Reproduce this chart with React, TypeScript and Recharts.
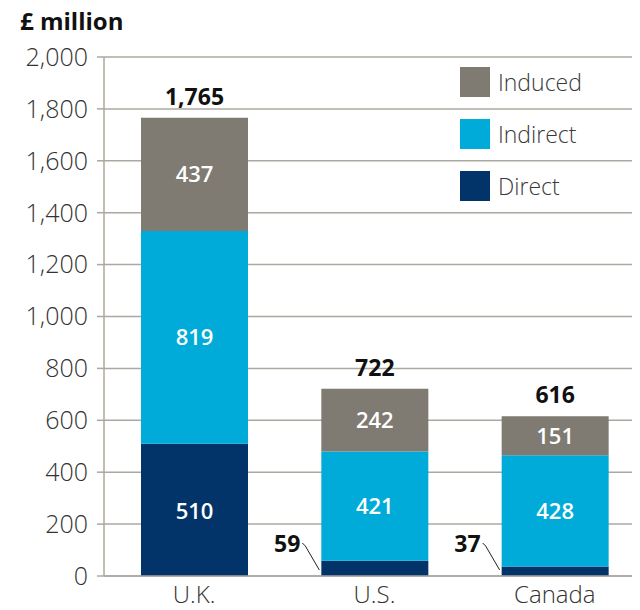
import { BarChart, Bar, XAxis, YAxis, CartesianGrid, Legend, LabelList } from "recharts";

const countries = ["U.K.", "U.S.", "Canada"];
const direct = [510, 59, 37];
const indirect = [819, 421, 428];
const induced = [437, 242, 151];
const totals = [1765, 722, 616];
const yTicks = [0, 200, 400, 600, 800, 1000, 1200, 1400, 1600, 1800, 2000];

const COLORS = {
  direct: "#02346a",
  indirect: "#00abd9",
  induced: "#7f7a72",
};

const FONT = "'Open Sans', sans-serif";
const GRID = "#aca79f";

const data = countries.map((country, i) => ({
  country,
  Direct: direct[i],
  Indirect: indirect[i],
  Induced: induced[i],
}));

// small segments get an outside label with a leader line
function DirectLabel(props: any) {
  const { x, y, width, height, value } = props;
  if (value >= 100) {
    return (
      <text
        x={x + width / 2}
        y={y + height / 2}
        fill="#fff"
        textAnchor="middle"
        dominantBaseline="central"
        fontFamily={FONT}
        fontSize={22}
        fontWeight={600}
      >
        {value}
      </text>
    );
  }
  const bottom = y + height;
  return (
    <g>
      <text
        x={x - 21}
        y={bottom - 24}
        textAnchor="end"
        fill="#111"
        fontFamily={FONT}
        fontSize={23}
        fontWeight={700}
      >
        {value}
      </text>
      <polyline
        points={`${x - 19},${bottom - 33} ${x - 16},${bottom - 30} ${x - 2},${bottom - 6}`}
        fill="none"
        stroke="#222"
        strokeWidth={1}
      />
    </g>
  );
}

function TotalLabel(props: any) {
  const { x, y, width, index } = props;
  return (
    <text
      x={x + width / 2}
      y={y - 13}
      textAnchor="middle"
      fill="#111"
      fontFamily={FONT}
      fontSize={23}
      fontWeight={700}
    >
      {totals[index].toLocaleString("en-US")}
    </text>
  );
}

function LegendBox(props: any) {
  const items = [...(props.payload || [])].reverse();
  return (
    <div style={{ fontFamily: FONT }}>
      {items.map((item: any) => (
        <div
          key={item.value}
          style={{ display: "flex", alignItems: "center", height: 30, marginBottom: 22 }}
        >
          <span style={{ width: 30, height: 30, background: item.color, display: "inline-block" }} />
          <span style={{ marginLeft: 8, fontSize: 23, fontWeight: 300, color: "#3a3a3a" }}>
            {item.value}
          </span>
        </div>
      ))}
    </div>
  );
}

export default function App() {
  return (
    <div style={{ position: "relative", width: 632, height: 602 }}>
      {/* plot area runs a little past the right edge, so clip it */}
      <div style={{ position: "absolute", left: 0, top: 0, width: 632, height: 602, overflow: "hidden" }}>
        <BarChart
          width={660}
          height={602}
          data={data}
          margin={{ top: 49, right: 23, left: 0, bottom: 4 }}
          barSize={107}
        >
          <CartesianGrid vertical={false} stroke={GRID} strokeWidth={1.5} />
          <XAxis
            xAxisId="edge"
            type="number"
            domain={[0, 3]}
            ticks={[0, 1, 2, 3]}
            tick={false}
            axisLine={false}
            tickLine={{ stroke: GRID, strokeWidth: 1.5 }}
            tickSize={7}
            height={0}
          />
          <XAxis
            dataKey="country"
            axisLine={{ stroke: GRID, strokeWidth: 1.5 }}
            tickLine={false}
            tickSize={7}
            tickMargin={3}
            height={30}
            tick={{ fontFamily: FONT, fontSize: 24, fontWeight: 300, fill: "#333" }}
          />
          <YAxis
            domain={[0, 2000]}
            ticks={yTicks}
            interval={0}
            width={96}
            tickSize={7}
            tickMargin={9}
            axisLine={{ stroke: GRID, strokeWidth: 1.5 }}
            tickLine={{ stroke: GRID, strokeWidth: 1.5 }}
            tickFormatter={(v: number) => v.toLocaleString("en-US")}
            tick={{ fontFamily: FONT, fontSize: 25, fontWeight: 300, fill: "#333" }}
          />
          <Legend
            layout="vertical"
            align="center"
            verticalAlign="middle"
            wrapperStyle={{ top: 59, left: 452, width: 180 }}
            content={<LegendBox />}
          />
          <Bar dataKey="Direct" stackId="a" fill={COLORS.direct} isAnimationActive={false}>
            <LabelList dataKey="Direct" content={<DirectLabel />} />
          </Bar>
          <Bar dataKey="Indirect" stackId="a" fill={COLORS.indirect} isAnimationActive={false}>
            <LabelList
              dataKey="Indirect"
              position="center"
              fill="#fff"
              fontFamily={FONT}
              fontSize={22}
              fontWeight={600}
            />
          </Bar>
          <Bar dataKey="Induced" stackId="a" fill={COLORS.induced} isAnimationActive={false}>
            <LabelList
              dataKey="Induced"
              position="center"
              fill="#fff"
              fontFamily={FONT}
              fontSize={22}
              fontWeight={600}
            />
            <LabelList dataKey="Induced" content={<TotalLabel />} />
          </Bar>
        </BarChart>
      </div>
      <div
        style={{
          position: "absolute",
          left: 12,
          top: 1,
          fontFamily: FONT,
          fontSize: 24,
          fontWeight: 700,
          lineHeight: "24px",
          color: "#111",
        }}
      >
        £ million
      </div>
    </div>
  );
}
